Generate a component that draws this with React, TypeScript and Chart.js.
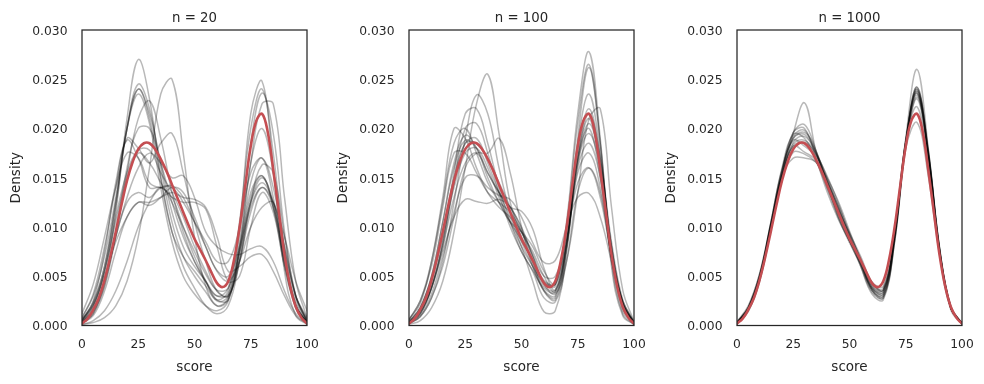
import React, { useEffect, useRef } from "react";
import { Chart, registerables } from "chart.js";

Chart.register(...registerables);

// ---------- data ----------
const scoreGrid = [0, 5, 10, 15, 20, 25, 30, 35, 40, 45, 50, 55, 60, 65, 70, 75, 80, 85, 90, 95, 100];

const scoreFine = [
  0, 2.5, 5, 7.5, 10, 12.5, 15, 17.5, 20, 22.5, 25, 27.5, 30, 32.5, 35, 37.5, 40, 42.5, 45, 47.5,
  50, 52.5, 55, 57.5, 60, 62.5, 65, 67.5, 70, 72.5, 75, 77.5, 80, 82.5, 85, 87.5, 90, 92.5, 95, 97.5, 100,
];

// true population density (red line)
const trueDensity = [
  0.0002, 0.0007, 0.0016, 0.0028, 0.0046, 0.0069, 0.0095, 0.0122, 0.0147, 0.0166, 0.0179, 0.0185, 0.0185,
  0.0179, 0.0169, 0.0157, 0.0143, 0.0129, 0.0115, 0.0101, 0.0088, 0.0077, 0.0066, 0.0054, 0.0043, 0.0039,
  0.0045, 0.0066, 0.0099, 0.0141, 0.0182, 0.0208, 0.0215, 0.0197, 0.0158, 0.0115, 0.0072, 0.004, 0.0019,
  0.0008, 0.0002,
];

// sample KDEs, n = 20
const kdeN20 = [
  [0.0002, 0.0012, 0.0045, 0.0115, 0.021, 0.027, 0.023, 0.015, 0.0095, 0.007, 0.0055, 0.004, 0.0026, 0.0035, 0.01, 0.0215, 0.0248, 0.016, 0.0055, 0.001, 0.0001],
  [0.0006, 0.0024, 0.006, 0.0125, 0.02, 0.024, 0.0215, 0.0165, 0.0115, 0.008, 0.006, 0.0045, 0.003, 0.0032, 0.008, 0.0165, 0.0225, 0.0225, 0.013, 0.0045, 0.0008],
  [0.0004, 0.002, 0.0055, 0.012, 0.02, 0.0245, 0.022, 0.016, 0.0105, 0.007, 0.005, 0.0034, 0.002, 0.0028, 0.007, 0.013, 0.0152, 0.012, 0.0065, 0.0022, 0.0004],
  [0.0001, 0.0003, 0.0008, 0.002, 0.0045, 0.009, 0.016, 0.0235, 0.025, 0.0175, 0.009, 0.004, 0.002, 0.0026, 0.0075, 0.0145, 0.017, 0.013, 0.0065, 0.002, 0.0003],
  [0.0003, 0.0014, 0.004, 0.009, 0.0155, 0.021, 0.0228, 0.019, 0.0135, 0.0095, 0.0065, 0.0044, 0.003, 0.0038, 0.0105, 0.02, 0.024, 0.0175, 0.0075, 0.0018, 0.0002],
  [0.0008, 0.0032, 0.008, 0.014, 0.019, 0.018, 0.0165, 0.0185, 0.0195, 0.0155, 0.0105, 0.0065, 0.0035, 0.003, 0.0065, 0.0115, 0.014, 0.012, 0.007, 0.0025, 0.0005],
  [0.0012, 0.0042, 0.009, 0.014, 0.0175, 0.017, 0.0145, 0.014, 0.0142, 0.013, 0.0105, 0.008, 0.0056, 0.005, 0.008, 0.0125, 0.0145, 0.0125, 0.0075, 0.003, 0.0008],
  [0.0001, 0.0005, 0.0015, 0.0035, 0.0065, 0.01, 0.0125, 0.014, 0.014, 0.0125, 0.0105, 0.0085, 0.0065, 0.0065, 0.01, 0.0155, 0.017, 0.014, 0.008, 0.003, 0.0005],
  [0.0004, 0.0016, 0.0045, 0.009, 0.013, 0.016, 0.0175, 0.0165, 0.015, 0.0152, 0.013, 0.0095, 0.008, 0.0073, 0.0072, 0.0078, 0.008, 0.0065, 0.0035, 0.0012, 0.0002],
  [0.0005, 0.002, 0.005, 0.0085, 0.011, 0.0125, 0.0125, 0.013, 0.0135, 0.013, 0.0128, 0.012, 0.009, 0.0055, 0.006, 0.007, 0.0072, 0.0055, 0.003, 0.001, 0.0002],
  [0.0002, 0.0012, 0.004, 0.0095, 0.016, 0.02, 0.02, 0.0165, 0.0125, 0.009, 0.0065, 0.0045, 0.0026, 0.0026, 0.008, 0.0165, 0.02, 0.0155, 0.007, 0.002, 0.0003],
  [0.0005, 0.0022, 0.006, 0.0125, 0.02, 0.024, 0.021, 0.015, 0.0095, 0.006, 0.0038, 0.002, 0.0012, 0.002, 0.0065, 0.0125, 0.015, 0.0125, 0.0065, 0.002, 0.0003],
  [0.0005, 0.0025, 0.0075, 0.0145, 0.0188, 0.017, 0.014, 0.014, 0.013, 0.01, 0.007, 0.0045, 0.0025, 0.003, 0.009, 0.0185, 0.0236, 0.0195, 0.0095, 0.003, 0.0004],
  [0.0002, 0.001, 0.0035, 0.0075, 0.011, 0.0125, 0.0122, 0.013, 0.014, 0.0135, 0.011, 0.008, 0.0055, 0.0045, 0.0065, 0.01, 0.012, 0.0125, 0.008, 0.003, 0.0006],
  [0.0003, 0.0018, 0.0055, 0.011, 0.0155, 0.0178, 0.0178, 0.0155, 0.0135, 0.011, 0.008, 0.0055, 0.0035, 0.003, 0.0065, 0.0125, 0.0163, 0.0155, 0.009, 0.003, 0.0004],
  [0.0008, 0.003, 0.007, 0.013, 0.02, 0.0235, 0.0205, 0.014, 0.0085, 0.005, 0.0032, 0.002, 0.0015, 0.0025, 0.0075, 0.0135, 0.0152, 0.012, 0.006, 0.0018, 0.0003],
  [0.0006, 0.0022, 0.0055, 0.0105, 0.015, 0.0175, 0.0165, 0.0145, 0.0125, 0.01, 0.0075, 0.0052, 0.0036, 0.0038, 0.0075, 0.012, 0.014, 0.0125, 0.009, 0.0045, 0.0015],
  [0.0003, 0.0015, 0.0045, 0.009, 0.0125, 0.0135, 0.013, 0.014, 0.013, 0.0125, 0.0125, 0.0118, 0.008, 0.0045, 0.005, 0.01, 0.0135, 0.0115, 0.006, 0.002, 0.0003],
];

// sample KDEs, n = 100
const kdeN100 = [
  [0.0001, 0.0005, 0.0018, 0.0045, 0.0095, 0.016, 0.0225, 0.0255, 0.0195, 0.0125, 0.0095, 0.0075, 0.005, 0.0034, 0.008, 0.017, 0.021, 0.016, 0.007, 0.0018, 0.0001],
  [0.0004, 0.0018, 0.0048, 0.009, 0.014, 0.0175, 0.018, 0.016, 0.013, 0.0105, 0.008, 0.006, 0.0044, 0.0042, 0.0105, 0.0215, 0.0278, 0.019, 0.0065, 0.0012, 0.0001],
  [0.0006, 0.0025, 0.0065, 0.0125, 0.0185, 0.02, 0.0175, 0.0145, 0.0125, 0.0105, 0.0086, 0.0066, 0.0046, 0.0042, 0.01, 0.0205, 0.0265, 0.0185, 0.007, 0.0015, 0.0001],
  [0.0003, 0.0014, 0.004, 0.0085, 0.0155, 0.0215, 0.022, 0.0185, 0.014, 0.0105, 0.0075, 0.0056, 0.0038, 0.0034, 0.0085, 0.0175, 0.022, 0.017, 0.008, 0.0022, 0.0002],
  [0.0002, 0.0009, 0.0028, 0.0065, 0.0125, 0.019, 0.0234, 0.0215, 0.016, 0.0115, 0.0085, 0.006, 0.0036, 0.003, 0.008, 0.017, 0.0215, 0.017, 0.0085, 0.0026, 0.0003],
  [0.0004, 0.0018, 0.005, 0.0105, 0.016, 0.0188, 0.018, 0.0155, 0.0135, 0.012, 0.01, 0.007, 0.0042, 0.0032, 0.0065, 0.0135, 0.021, 0.022, 0.012, 0.0036, 0.0004],
  [0.0006, 0.0022, 0.0065, 0.013, 0.02, 0.019, 0.016, 0.0135, 0.012, 0.011, 0.0095, 0.007, 0.0044, 0.004, 0.0095, 0.017, 0.02, 0.015, 0.007, 0.002, 0.0002],
  [0.0003, 0.0014, 0.0038, 0.0075, 0.011, 0.0128, 0.0126, 0.0124, 0.0128, 0.012, 0.0098, 0.0072, 0.005, 0.005, 0.009, 0.0145, 0.016, 0.013, 0.007, 0.0024, 0.0003],
  [0.0002, 0.001, 0.0032, 0.007, 0.0115, 0.015, 0.0152, 0.014, 0.0132, 0.0128, 0.011, 0.0084, 0.0064, 0.0066, 0.01, 0.013, 0.0134, 0.011, 0.0065, 0.0025, 0.0004],
  [0.0002, 0.0009, 0.0028, 0.006, 0.011, 0.016, 0.0175, 0.0175, 0.019, 0.0155, 0.01, 0.006, 0.0035, 0.0028, 0.008, 0.0165, 0.0205, 0.0165, 0.008, 0.0024, 0.0003],
  [0.0004, 0.0018, 0.005, 0.0105, 0.0165, 0.0193, 0.018, 0.015, 0.0125, 0.0105, 0.0095, 0.008, 0.0055, 0.0042, 0.0085, 0.0155, 0.0175, 0.014, 0.007, 0.0022, 0.0003],
  [0.0006, 0.0025, 0.006, 0.012, 0.0175, 0.0175, 0.0155, 0.0135, 0.0125, 0.0115, 0.0095, 0.0065, 0.0035, 0.0026, 0.0075, 0.016, 0.0185, 0.015, 0.0075, 0.0022, 0.0002],
  [0.0002, 0.0012, 0.0038, 0.008, 0.0145, 0.02, 0.0205, 0.0175, 0.0135, 0.01, 0.0075, 0.0055, 0.0028, 0.0024, 0.0065, 0.0135, 0.016, 0.0135, 0.007, 0.0022, 0.0003],
  [0.0002, 0.0012, 0.0038, 0.008, 0.013, 0.0165, 0.0175, 0.0155, 0.0135, 0.012, 0.0116, 0.0098, 0.0058, 0.0036, 0.0085, 0.0185, 0.0235, 0.0175, 0.0075, 0.0018, 0.0002],
  [0.0003, 0.0015, 0.0044, 0.0095, 0.015, 0.0185, 0.0185, 0.017, 0.0145, 0.012, 0.009, 0.0064, 0.004, 0.0036, 0.0085, 0.0165, 0.0195, 0.016, 0.008, 0.0023, 0.0002],
  [0.0002, 0.0012, 0.0038, 0.0085, 0.0145, 0.0185, 0.019, 0.0165, 0.0135, 0.011, 0.008, 0.0045, 0.0014, 0.0015, 0.0075, 0.019, 0.0262, 0.0185, 0.006, 0.001, 0.0001],
];

// sample KDEs, n = 1000
const kdeN1000 = [
  [0.0003, 0.0018, 0.005, 0.0102, 0.0156, 0.0192, 0.0198, 0.0175, 0.0146, 0.0116, 0.0088, 0.0064, 0.004, 0.0036, 0.0092, 0.0188, 0.0238, 0.0172, 0.0076, 0.0018, 0.0002],
  [0.0002, 0.0016, 0.0048, 0.01, 0.0154, 0.0196, 0.0204, 0.0178, 0.0144, 0.0112, 0.0086, 0.0062, 0.0038, 0.0034, 0.009, 0.0186, 0.0242, 0.0176, 0.0078, 0.0019, 0.0002],
  [0.0004, 0.002, 0.0052, 0.0104, 0.0158, 0.0188, 0.0182, 0.0172, 0.0148, 0.012, 0.009, 0.0064, 0.0036, 0.003, 0.0086, 0.0184, 0.0234, 0.0174, 0.0079, 0.002, 0.0002],
  [0.0002, 0.0014, 0.0044, 0.0096, 0.015, 0.0195, 0.0226, 0.0178, 0.014, 0.011, 0.0086, 0.0066, 0.0042, 0.0036, 0.0092, 0.019, 0.026, 0.018, 0.0074, 0.0016, 0.0001],
  [0.0003, 0.0018, 0.0048, 0.01, 0.0152, 0.017, 0.017, 0.0166, 0.0146, 0.0122, 0.0094, 0.0066, 0.0038, 0.0032, 0.009, 0.0182, 0.023, 0.017, 0.0076, 0.0018, 0.0002],
  [0.0002, 0.0016, 0.0046, 0.0098, 0.015, 0.0186, 0.0192, 0.0176, 0.015, 0.012, 0.009, 0.006, 0.0032, 0.0026, 0.0084, 0.0184, 0.024, 0.0176, 0.0078, 0.0018, 0.0002],
  [0.0003, 0.0018, 0.005, 0.0104, 0.016, 0.0194, 0.019, 0.0168, 0.014, 0.0114, 0.0088, 0.0066, 0.0042, 0.0038, 0.0094, 0.0188, 0.0236, 0.0172, 0.0076, 0.0018, 0.0002],
  [0.0002, 0.0016, 0.0046, 0.0096, 0.0148, 0.0176, 0.0174, 0.0166, 0.015, 0.0126, 0.0096, 0.0066, 0.0036, 0.0028, 0.0084, 0.018, 0.0232, 0.0174, 0.0078, 0.0019, 0.0002],
  [0.0003, 0.0017, 0.0049, 0.0102, 0.0156, 0.0196, 0.02, 0.017, 0.0136, 0.0108, 0.0086, 0.0066, 0.0044, 0.004, 0.0096, 0.0186, 0.0222, 0.0164, 0.0074, 0.0018, 0.0002],
  [0.0002, 0.0016, 0.0048, 0.01, 0.0152, 0.0184, 0.0188, 0.0174, 0.0146, 0.0118, 0.0094, 0.007, 0.0044, 0.0036, 0.009, 0.018, 0.0206, 0.0152, 0.0072, 0.0018, 0.0002],
  [0.0003, 0.0019, 0.0052, 0.0104, 0.0158, 0.019, 0.0194, 0.0176, 0.0148, 0.0116, 0.0086, 0.006, 0.0034, 0.0028, 0.0086, 0.0184, 0.0238, 0.0178, 0.008, 0.0019, 0.0002],
  [0.0002, 0.0015, 0.0046, 0.0098, 0.0152, 0.0182, 0.0176, 0.0168, 0.0144, 0.0118, 0.0092, 0.0068, 0.004, 0.0034, 0.009, 0.0186, 0.024, 0.0174, 0.0076, 0.0018, 0.0002],
  [0.0002, 0.0017, 0.0048, 0.0102, 0.0154, 0.019, 0.0196, 0.0178, 0.0144, 0.011, 0.0084, 0.0062, 0.0038, 0.0032, 0.009, 0.0188, 0.0242, 0.0178, 0.0078, 0.0018, 0.0002],
  [0.0003, 0.0018, 0.005, 0.01, 0.015, 0.0182, 0.0186, 0.0174, 0.0152, 0.0124, 0.0092, 0.0062, 0.0036, 0.003, 0.0088, 0.0186, 0.0236, 0.0174, 0.0076, 0.0018, 0.0002],
];

const panelTitles = ["n = 20", "n = 100", "n = 1000"];
const panelCurves = [kdeN20, kdeN100, kdeN1000];
const xTickValues = [0, 25, 50, 75, 100];
const yTickValues = [0, 0.005, 0.01, 0.015, 0.02, 0.025, 0.03];

// ---------- styling ----------
const FONT = '"DejaVu Sans", "Liberation Sans", sans-serif';
const TEXT = "#262626";
const RED = "#c44e52";
const GRAY = "rgba(0,0,0,0.28)";

function makeFramePlugin(title: string) {
  return {
    id: "frameAndTitle",
    afterDatasetsDraw(chart: any) {
      const { ctx, chartArea } = chart;
      const { left, right, top, bottom } = chartArea;
      ctx.save();
      ctx.strokeStyle = TEXT;
      ctx.lineWidth = 1.25;
      ctx.strokeRect(left, top, right - left, bottom - top);
      ctx.fillStyle = TEXT;
      ctx.font = `13.3px ${FONT}`;
      ctx.textAlign = "center";
      ctx.textBaseline = "alphabetic";
      ctx.fillText(title, (left + right) / 2, 21.7);
      ctx.restore();
    },
  };
}

function Panel({ index, left }: { index: number; left: number }) {
  const ref = useRef<HTMLCanvasElement>(null);
  useEffect(() => {
    if (!ref.current) return;
    const curves = panelCurves[index];
    const datasets: any[] = [
      {
        data: scoreFine.map((x, i) => ({ x, y: trueDensity[i] })),
        borderColor: RED,
        borderWidth: 2.6,
      },
      ...curves.map((c) => ({
        data: scoreGrid.map((x, i) => ({ x, y: c[i] })),
        borderColor: GRAY,
        borderWidth: 1.5,
      })),
    ];
    const chart = new Chart(ref.current, {
      type: "line",
      data: { datasets },
      options: {
        animation: false,
        responsive: false,
        devicePixelRatio: 1,
        layout: { padding: { top: 30, right: 13, left: 0, bottom: 0 } },
        elements: {
          point: { radius: 0, hoverRadius: 0 },
          line: { tension: 0.4, fill: false, borderCapStyle: "round", borderJoinStyle: "round" },
        },
        plugins: {
          legend: { display: false },
          tooltip: { enabled: false },
          title: { display: false },
        },
        events: [],
        scales: {
          x: {
            type: "linear",
            min: 0,
            max: 100,
            grid: { display: false, drawTicks: false },
            border: { display: false },
            afterBuildTicks: (s: any) => {
              s.ticks = xTickValues.map((v) => ({ value: v }));
            },
            afterFit: (s: any) => {
              s.height = 58.5;
              s.paddingLeft = 0;
              s.paddingRight = 0;
            },
            ticks: {
              padding: 11.5,
              color: TEXT,
              font: { family: FONT, size: 12.3 },
              maxRotation: 0,
              callback: (v: any) => String(v),
            },
            title: {
              display: true,
              text: "score",
              color: TEXT,
              font: { family: FONT, size: 13.5 },
              padding: { top: 0, bottom: 8.6 },
            },
          },
          y: {
            type: "linear",
            min: 0,
            max: 0.03,
            grid: { display: false, drawTicks: false },
            border: { display: false },
            afterBuildTicks: (s: any) => {
              s.ticks = yTickValues.map((v) => ({ value: v }));
            },
            afterFit: (s: any) => {
              s.width = 82;
              s.paddingTop = 0;
              s.paddingBottom = 0;
            },
            ticks: {
              padding: 14.5,
              labelOffset: 1.8,
              color: TEXT,
              font: { family: FONT, size: 12.3 },
              callback: (v: any) => Number(v).toFixed(3),
            },
            title: {
              display: true,
              text: "Density",
              color: TEXT,
              font: { family: FONT, size: 13.5 },
              padding: { top: 8.2, bottom: 0 },
            },
          },
        },
      },
      plugins: [makeFramePlugin(panelTitles[index])],
    } as any);
    return () => chart.destroy();
  }, [index]);
  return (
    <canvas
      ref={ref}
      width={320}
      height={384}
      style={{ position: "absolute", left, top: 0, width: 320, height: 384, display: "block" }}
    />
  );
}

export default function App() {
  return (
    <div style={{ position: "fixed", left: 0, top: 0, width: 984, height: 384, background: "#fff", overflow: "hidden" }}>
      <Panel index={0} left={0} />
      <Panel index={1} left={327} />
      <Panel index={2} left={655} />
    </div>
  );
}
